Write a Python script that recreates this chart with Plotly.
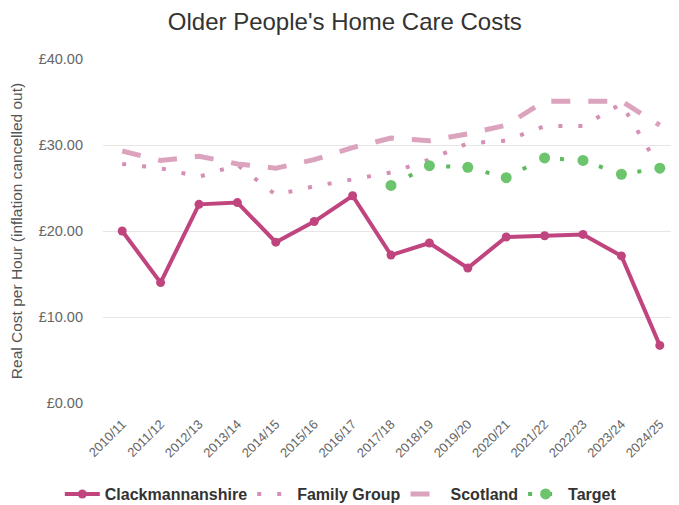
import plotly.graph_objects as go

years = ["2010/11", "2011/12", "2012/13", "2013/14", "2014/15", "2015/16", "2016/17",
         "2017/18", "2018/19", "2019/20", "2020/21", "2021/22", "2022/23", "2023/24", "2024/25"]
clackmannanshire = [20.0, 14.0, 23.1, 23.3, 18.7, 21.1, 24.1, 17.2, 18.6, 15.7, 19.3, 19.45, 19.6, 17.1, 6.7]
family_group = [27.8, 27.3, 26.3, 27.7, 24.2, 25.2, 26.0, 26.8, 28.3, 30.2, 30.5, 32.2, 32.2, 34.8, 27.3]
scotland = [29.3, 28.2, 28.7, 27.8, 27.3, 28.3, 29.7, 30.8, 30.5, 31.3, 32.3, 35.1, 35.1, 35.1, 32.3]
target = [None, None, None, None, None, None, None, 25.3, 27.6, 27.4, 26.2, 28.5, 28.2, 26.6, 27.3]
y_ticks = [0, 10, 20, 30, 40]
y_tick_labels = ["£0.00", "£10.00", "£20.00", "£30.00", "£40.00"]

fig = go.Figure()
fig.add_trace(go.Scatter(x=years, y=clackmannanshire, name="Clackmannanshire", mode="lines+markers",
                         line=dict(color="#c0457f", width=4), marker=dict(size=9, color="#c0457f")))
fig.add_trace(go.Scatter(x=years, y=family_group, name="Family Group", mode="lines",
                         line=dict(color="#d68fb5", width=4, dash="4px,16px")))
fig.add_trace(go.Scatter(x=years, y=scotland, name="Scotland", mode="lines",
                         line=dict(color="#dca3bf", width=5, dash="19px,18px")))
fig.add_trace(go.Scatter(x=years, y=target, name="Target", mode="lines+markers",
                         line=dict(color="#5dbb5d", width=4, dash="4px,16px"),
                         marker=dict(size=11, color="#6cc56c")))

fig.update_layout(
    width=671, height=497,
    margin=dict(l=95, r=0, t=51, b=102, autoexpand=False),
    paper_bgcolor="white", plot_bgcolor="white",
    font=dict(family="Liberation Sans, Arial, sans-serif", color="#666666"),
    title=dict(text="Older People's Home Care Costs", x=0.502, xref="container", xanchor="center",
               y=0.972, yref="container", yanchor="middle",
               font=dict(size=24, color="#333333")),
    xaxis=dict(type="category", range=[-0.5, 14.5], tickangle=-45, showgrid=False, automargin=False,
               tickfont=dict(size=13, color="#666666"), showline=False, zeroline=False, ticks="",
               ticklabelstandoff=10),
    yaxis=dict(range=[0, 40], tickvals=y_ticks, ticktext=y_tick_labels, gridcolor="#e6e6e6",
               automargin=False,
               tickfont=dict(size=14.5, color="#666666"), zeroline=False, ticks="", ticklabelstandoff=19,
               title=dict(text="Real Cost per Hour (inflation cancelled out)",
                          font=dict(size=15.5, color="#555555"), standoff=12)),
    legend=dict(orientation="h", xref="container", x=0.496, xanchor="center",
                yref="container", y=0.022, yanchor="middle",
                font=dict(size=16, color="#333333", weight="bold"), itemwidth=35),
    showlegend=True,
)

fig.write_html("out.html")
